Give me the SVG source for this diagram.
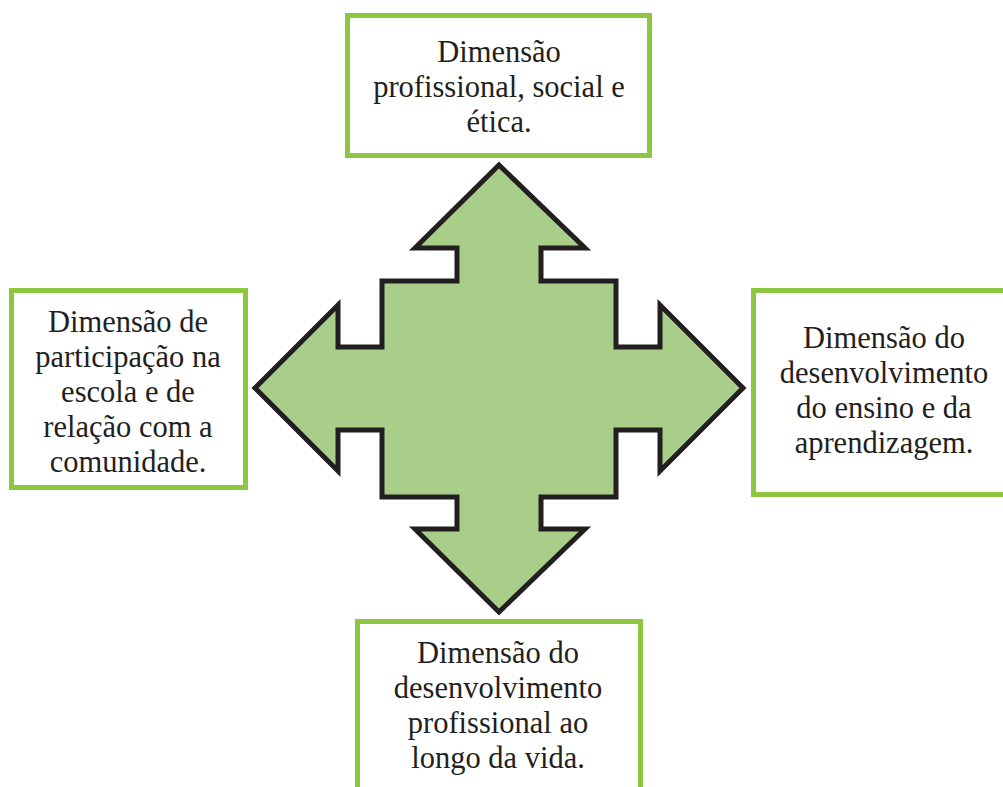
<svg xmlns="http://www.w3.org/2000/svg" width="1003" height="787" viewBox="0 0 1003 787">
<style>
.box{fill:#ffffff;stroke:#8dc63f;stroke-width:5}
.lbl{font-family:"Liberation Serif","Times New Roman",serif;font-size:30.5px;fill:#231f20;text-anchor:middle}
.arrow{fill:#a8ce8a;stroke:#231f20;stroke-width:5;stroke-linejoin:miter}
</style>
<rect width="1003" height="787" fill="#ffffff"/>
<g id="connectors">
<path class="arrow" d="M499,165 L585,248 L541,248 L541,281 L616,281 L616,347 L660,347 L660,305 L743,388 L660,471 L660,430 L616,430 L616,497 L541,497 L541,529 L585,529 L499,612 L415,529 L457,529 L457,497 L382,497 L382,430 L338,430 L338,471 L255,388 L338,305 L338,347 L382,347 L382,281 L457,281 L457,248 L415,248 Z"/>
</g>
<g id="node-top">
<rect class="box" x="347.5" y="15.5" width="302" height="140"/>
<text class="lbl" x="499" y="62">Dimensão</text>
<text class="lbl" x="499" y="97">profissional, social e</text>
<text class="lbl" x="499" y="132">ética.</text>
</g>
<g id="node-left">
<rect class="box" x="11.5" y="290.5" width="234" height="197"/>
<text class="lbl" x="128" y="332">Dimensão de</text>
<text class="lbl" x="128" y="367">participação na</text>
<text class="lbl" x="128" y="402">escola e de</text>
<text class="lbl" x="128" y="437">relação com a</text>
<text class="lbl" x="128" y="472">comunidade.</text>
</g>
<g id="node-right">
<rect class="box" x="753.5" y="290.5" width="260" height="204"/>
<text class="lbl" x="884" y="348">Dimensão do</text>
<text class="lbl" x="884" y="383">desenvolvimento</text>
<text class="lbl" x="884" y="418">do ensino e da</text>
<text class="lbl" x="884" y="453">aprendizagem.</text>
</g>
<g id="node-bottom">
<rect class="box" x="357.5" y="621.5" width="283" height="200"/>
<text class="lbl" x="498" y="663">Dimensão do</text>
<text class="lbl" x="498" y="698">desenvolvimento</text>
<text class="lbl" x="498" y="733">profissional ao</text>
<text class="lbl" x="498" y="768">longo da vida.</text>
</g>
</svg>
